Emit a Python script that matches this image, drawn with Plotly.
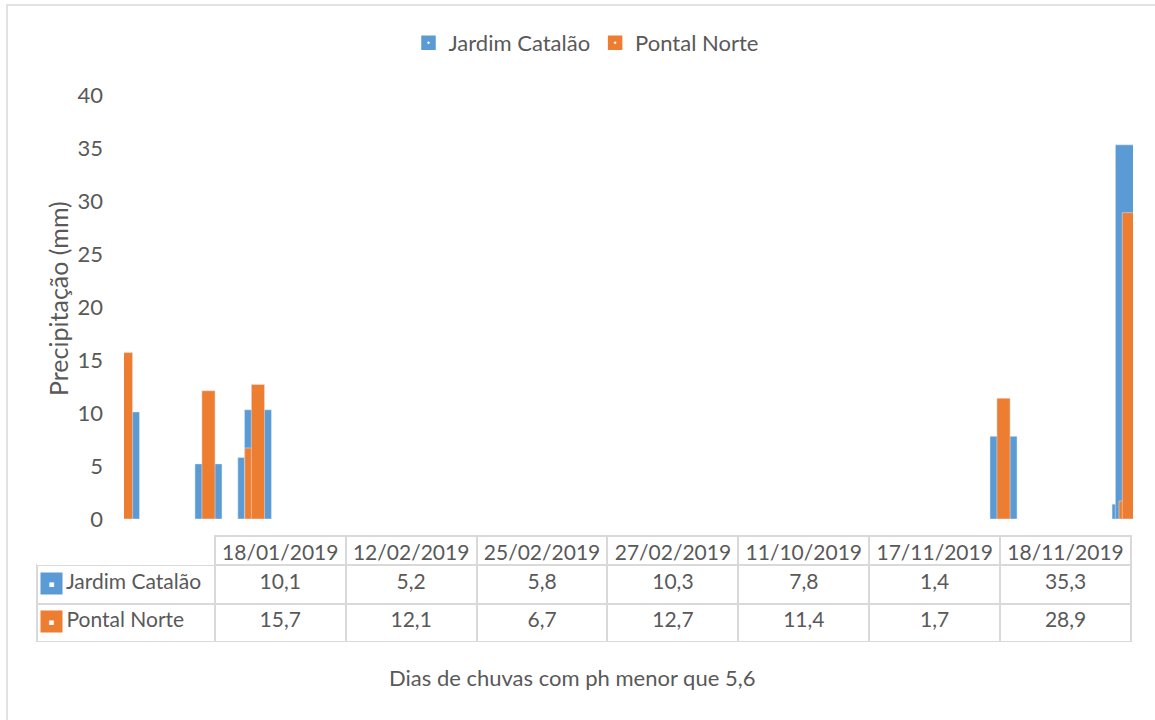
import plotly.graph_objects as go

dates = ["2019-01-18", "2019-02-12", "2019-02-25", "2019-02-27", "2019-10-11", "2019-11-17", "2019-11-18"]
date_labels = ["18/01/2019", "12/02/2019", "25/02/2019", "27/02/2019", "11/10/2019", "17/11/2019", "18/11/2019"]
jardim = [10.1, 5.2, 5.8, 10.3, 7.8, 1.4, 35.3]
pontal = [15.7, 12.1, 6.7, 12.7, 11.4, 1.7, 28.9]
series_names = ["Jardim Catalão", "Pontal Norte"]
y_ticks = [0, 5, 10, 15, 20, 25, 30, 35, 40]

BLUE = "#5b9bd5"
ORANGE = "#ed7d31"
GRAY = "#595959"
BORDER = "#d9d9d9"
FONT = "Lato"
FS = 22
TFS = 21
W, H = 1155, 720
DAY = 86400000


def fx(px):
    return px / W


def fy(py):
    return 1 - py / H


def fmt(v):
    return f"{v:.1f}".replace(".", ",")


fig = go.Figure()
fig.add_trace(go.Bar(x=dates, y=jardim, name=series_names[0], marker_color=BLUE,
                     width=8.2 * DAY, showlegend=False))
fig.add_trace(go.Bar(x=dates, y=pontal, name=series_names[1], marker_color=ORANGE,
                     width=4.0 * DAY, showlegend=False))
# legend entries
for nm, col in zip(series_names, [BLUE, ORANGE]):
    fig.add_trace(go.Scatter(x=[None], y=[None], mode="markers", name=nm,
                             marker=dict(symbol="square-dot", size=16, color=col,
                                         line=dict(color="white", width=1.5))))

pad = "\u00a0" * 4
fig.add_trace(go.Table(
    domain=dict(x=[fx(37), fx(1131)], y=[fy(642), fy(536)]),
    columnwidth=[178] + [131] * len(date_labels),
    header=dict(values=[""] + date_labels,
                fill_color="white",
                line=dict(color=["rgba(0,0,0,0)"] + [BORDER] * len(date_labels), width=2),
                align="center", height=29,
                font=dict(family=FONT, size=TFS, color=GRAY)),
    cells=dict(values=[[pad + n for n in series_names]]
               + [[fmt(a), fmt(b)] for a, b in zip(jardim, pontal)],
               fill_color="white",
               line=dict(color=BORDER, width=2),
               align=["left"] + ["center"] * len(date_labels), height=38.5,
               font=dict(family=FONT, size=TFS, color=GRAY)),
))

annotations = [
    dict(text="Dias de chuvas com ph menor que 5,6", x=fx(572), y=fy(677), xref="paper", yref="paper",
         xanchor="center", yanchor="middle",
         showarrow=False, font=dict(family=FONT, size=FS, color=GRAY)),
    dict(text="Precipitação (mm)", x=fx(58), y=fy(299), xref="paper", yref="paper",
         xanchor="center", yanchor="middle",
         showarrow=False, textangle=-90, font=dict(family=FONT, size=25, color=GRAY)),
]
# legend keys inside the data table
for col, ypx in zip([BLUE, ORANGE], [583, 621]):
    annotations.append(dict(text="▪", x=fx(51), y=fy(ypx), xref="paper", yref="paper",
                            xanchor="center", yanchor="middle",
                            showarrow=False, bgcolor=col, width=17, height=17, borderpad=2,
                            font=dict(family="DejaVu Sans", size=9, color="white")))

fig.update_layout(
    width=W, height=H,
    margin=dict(l=0, r=0, t=0, b=0, autoexpand=False),
    paper_bgcolor="white", plot_bgcolor="white",
    barmode="overlay",
    font=dict(family=FONT, size=FS, color=GRAY),
    xaxis=dict(domain=[fx(124), fx(1133)], type="date",
               range=["2019-01-17 09:30", "2019-11-19 06:00"],
               showticklabels=False, showgrid=False, zeroline=False, showline=False, ticks=""),
    yaxis=dict(domain=[fy(519), fy(95)], range=[0, 40], tickvals=y_ticks,
               showgrid=False, zeroline=False, showline=False, ticks="",
               ticklabelstandoff=20, tickfont=dict(family=FONT, size=FS, color=GRAY)),
    legend=dict(orientation="h", x=fx(586), xanchor="center", y=fy(43), yanchor="middle",
                font=dict(family=FONT, size=FS, color=GRAY), itemwidth=30),
    showlegend=True,
    annotations=annotations,
    shapes=[dict(type="rect", xref="paper", yref="paper", x0=fx(7), y0=-0.02, x1=1.02, y1=fy(5),
                 line=dict(color=BORDER, width=1.5), fillcolor="rgba(0,0,0,0)", layer="below")],
)

fig.write_html("out.html", config={"displayModeBar": False},
               post_script="document.body.style.margin='0';")
